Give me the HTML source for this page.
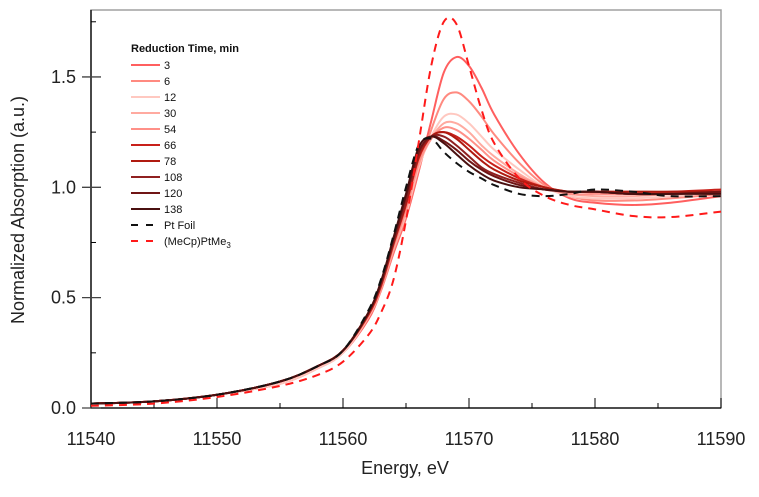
<!DOCTYPE html>
<html><head><meta charset="utf-8"><style>
body{margin:0;background:#fff;font-family:"Liberation Sans",sans-serif}
svg text{font-family:"Liberation Sans",sans-serif}
</style></head><body>
<svg id="chart" width="759" height="492" xmlns="http://www.w3.org/2000/svg">
<rect x="91" y="10" width="630" height="398" fill="none" stroke="#a0a0a0" stroke-width="1.5"/>
<g id="axes"></g>
<g id="series"></g>
<g id="legend"></g>
<text x="405" y="474" font-size="18" text-anchor="middle" fill="#222">Energy, eV</text>
<text x="24" y="210" font-size="18" text-anchor="middle" fill="#222" transform="rotate(-90 24 210)">Normalized Absorption (a.u.)</text>
</svg>
<script>
const energies=[11540,11545,11550,11555,11558,11560,11562,11563,11564,11565,11566,11567,11568,11569,11570,11571,11572,11574,11576,11578,11580,11583,11586,11590];
const sLabels=["3","6","12","30","54","66","78","108","120","138"];
const sColors=["#ff5f5f","#ff8a80","#ffc8c0","#ffaaa0","#ff9088","#c8201a","#b01a10","#902020","#701515","#4a1010"];
const s3=[0.02,0.03,0.06,0.11,0.18,0.25,0.40,0.53,0.70,0.86,1.07,1.30,1.52,1.59,1.55,1.45,1.33,1.15,1.02,0.95,0.93,0.92,0.93,0.96];
const s6=[0.02,0.03,0.06,0.11,0.18,0.25,0.41,0.53,0.71,0.87,1.08,1.26,1.40,1.43,1.39,1.32,1.24,1.11,1.01,0.96,0.94,0.94,0.95,0.97];
const s12=[0.02,0.03,0.06,0.11,0.18,0.25,0.41,0.54,0.72,0.88,1.09,1.23,1.32,1.33,1.29,1.23,1.17,1.08,1.00,0.96,0.95,0.95,0.96,0.98];
const s30=[0.02,0.03,0.06,0.12,0.19,0.26,0.41,0.54,0.72,0.89,1.10,1.22,1.29,1.29,1.25,1.19,1.14,1.06,1.00,0.97,0.96,0.96,0.97,0.98];
const s54=[0.02,0.03,0.06,0.12,0.19,0.26,0.42,0.54,0.73,0.90,1.11,1.22,1.27,1.26,1.22,1.17,1.12,1.05,1.00,0.97,0.97,0.97,0.98,0.98];
const s66=[0.02,0.03,0.06,0.12,0.19,0.26,0.42,0.55,0.74,0.92,1.13,1.23,1.25,1.23,1.19,1.14,1.10,1.04,1.00,0.98,0.98,0.98,0.98,0.99];
const s78=[0.02,0.03,0.06,0.12,0.19,0.26,0.43,0.56,0.75,0.93,1.14,1.23,1.25,1.22,1.17,1.12,1.08,1.03,1.00,0.98,0.98,0.98,0.98,0.98];
const s108=[0.02,0.03,0.06,0.12,0.19,0.26,0.43,0.56,0.75,0.94,1.15,1.23,1.23,1.19,1.14,1.09,1.06,1.02,0.99,0.98,0.98,0.97,0.97,0.98];
const s120=[0.02,0.03,0.06,0.12,0.19,0.26,0.43,0.57,0.76,0.96,1.16,1.23,1.21,1.17,1.12,1.08,1.05,1.01,0.99,0.98,0.98,0.97,0.97,0.98];
const s138=[0.02,0.03,0.06,0.12,0.19,0.26,0.43,0.57,0.77,0.97,1.18,1.23,1.20,1.15,1.10,1.06,1.03,1.00,0.99,0.98,0.98,0.97,0.97,0.97];
const ptFoil=[0.02,0.03,0.06,0.12,0.19,0.26,0.44,0.58,0.78,1.00,1.19,1.22,1.16,1.11,1.07,1.04,1.01,0.97,0.96,0.97,0.99,0.98,0.96,0.96];
const mecp=[0.01,0.02,0.05,0.10,0.15,0.21,0.33,0.43,0.58,0.85,1.20,1.55,1.75,1.74,1.55,1.35,1.20,1.04,0.96,0.92,0.90,0.87,0.865,0.89];
const xTicks=[11540,11550,11560,11570,11580,11590];
const xMinor=[11545,11555,11565,11575,11585];
const yTicks=[0,0.5,1.0,1.5];
const yTickLabels=["0.0","0.5","1.0","1.5"];
const yMinor=[0.25,0.75,1.25,1.75];

const NS="http://www.w3.org/2000/svg";
const X0=91,X1=721,Y0=408,YPER=220.7;
function xs(e){return X0+(e-11540)/(11590-11540)*(X1-X0);}
function ys(v){return Y0-v*YPER;}
function mk(tag,attrs,parent){const el=document.createElementNS(NS,tag);for(const k in attrs)el.setAttribute(k,attrs[k]);parent.appendChild(el);return el;}
const axes=document.getElementById('axes'),series=document.getElementById('series'),legend=document.getElementById('legend');
let ax=mk('line',{x1:X0,y1:Y0,x2:X1,y2:Y0,stroke:'#000','stroke-width':1.3},axes);


let ay=mk('line',{x1:X0,y1:10,x2:X0,y2:Y0,stroke:'#000','stroke-width':1.3},axes);


xTicks.forEach(t=>{const x=xs(t);
 const l=mk('line',{x1:x,y1:Y0,x2:x,y2:Y0-10,stroke:'#000'},axes);
 
 
 const tx=mk('text',{x:x,y:445,'font-size':18,'text-anchor':'middle',fill:'#222'},axes);tx.textContent=t;
 
 });
xMinor.forEach(t=>{const l=mk('line',{x1:xs(t),y1:Y0,x2:xs(t),y2:Y0-5,stroke:'#000'},axes);
 
 });
yTicks.forEach((t,i)=>{const y=ys(t);
 const l=mk('line',{x1:X0-9,y1:y,x2:X0+10,y2:y,stroke:'#444','stroke-width':1.3},axes);
 
 
 const tx=mk('text',{x:76,y:y+6,'font-size':18,'text-anchor':'end',fill:'#222'},axes);tx.textContent=yTickLabels[i];
 
 });
yMinor.forEach(t=>{const l=mk('line',{x1:X0,y1:ys(t),x2:X0+5,y2:ys(t),stroke:'#000'},axes);
 
 });
function pathD(vals){const p=vals.map((v,i)=>[xs(energies[i]),ys(v)]);let d='M'+p[0][0]+','+p[0][1];
 for(let i=0;i<p.length-1;i++){const a=p[Math.max(0,i-1)],b=p[i],c=p[i+1],e=p[Math.min(p.length-1,i+2)];
  const c1=[b[0]+(c[0]-a[0])/6,b[1]+(c[1]-a[1])/6],c2=[c[0]-(e[0]-b[0])/6,c[1]-(e[1]-b[1])/6];
  d+=' C'+c1.join(',')+' '+c2.join(',')+' '+c.join(',');}return d;}
const allS=[s3,s6,s12,s30,s54,s66,s78,s108,s120,s138];
allS.forEach((vals,i)=>{const p=mk('path',{d:pathD(vals),fill:'none',stroke:sColors[i],'stroke-width':2},series);
 
 });
const pf=mk('path',{d:pathD(ptFoil),fill:'none',stroke:'#111','stroke-width':2,'stroke-dasharray':'8,6'},series);


const mc=mk('path',{d:pathD(mecp),fill:'none',stroke:'#ff1a1a','stroke-width':2,'stroke-dasharray':'8,6'},series);


const lt=mk('text',{x:131,y:52,'font-size':11,'font-weight':'bold',fill:'#111'},legend);lt.textContent='Reduction Time, min';


const names=sLabels.concat(['Pt Foil','(MeCp)PtMe']);
const cols=sColors.concat(['#111','#ff1a1a']);
names.forEach((n,i)=>{const y=65+i*16;
 const g=mk('g',{},legend);
 
 
 const dashed=i>=10;
 mk('line',{x1:131,y1:y,x2:160,y2:y,stroke:cols[i],'stroke-width':2,'stroke-dasharray':dashed?'7,8':'none'},g);
 const t=mk('text',{x:164,y:y+4,'font-size':11,fill:'#111'},g);t.textContent=n;
 if(i==11){const s=mk('tspan',{'font-size':8,dy:3},t);s.textContent='3';}
});
</script>
</body></html>
